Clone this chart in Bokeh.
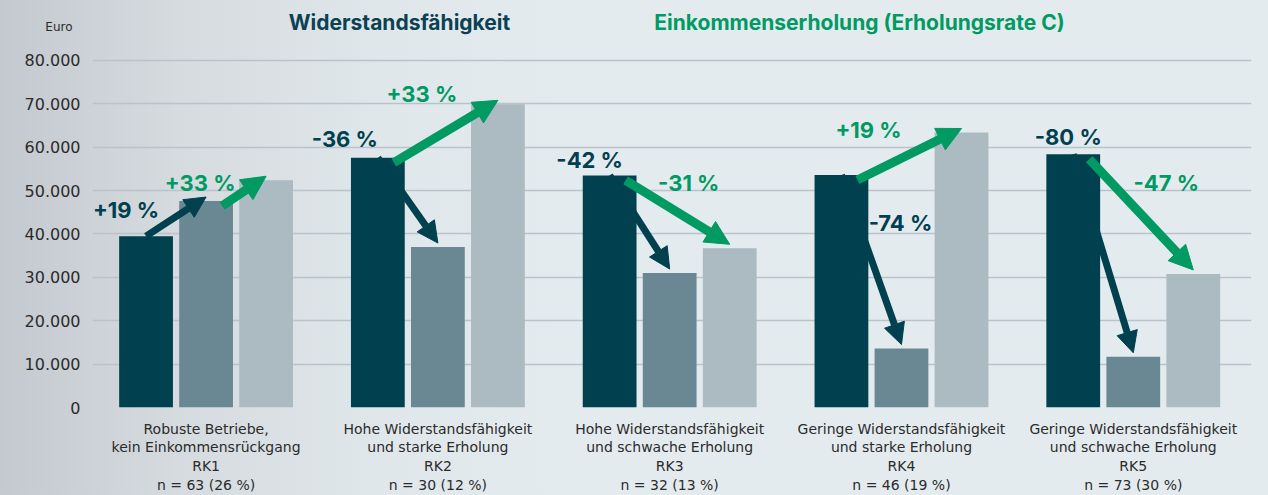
from bokeh.plotting import figure
from bokeh.models import Range1d, Label, Arrow, NormalHead, FixedTicker
from bokeh.layouts import column
from bokeh.core.properties import value
from bokeh.embed import file_html
from bokeh.resources import INLINE

# ---------------- data ----------------
groups = ["RK1", "RK2", "RK3", "RK4", "RK5"]
group_labels = [
    "Robuste Betriebe,\nkein Einkommensrückgang\nRK1\nn = 63 (26 %)",
    "Hohe Widerstandsfähigkeit\nund starke Erholung\nRK2\nn = 30 (12 %)",
    "Hohe Widerstandsfähigkeit\nund schwache Erholung\nRK3\nn = 32 (13 %)",
    "Geringe Widerstandsfähigkeit\nund starke Erholung\nRK4\nn = 46 (19 %)",
    "Geringe Widerstandsfähigkeit\nund schwache Erholung\nRK5\nn = 73 (30 %)",
]
income_before = [39500, 57600, 53500, 53600, 58400]
income_crisis = [47600, 37000, 31000, 13600, 11700]
income_after = [52400, 69900, 36700, 63400, 30800]
resilience_text = ["+19 %", "-36 %", "-42 %", "-74 %", "-80 %"]
recovery_text = ["+33 %", "+33 %", "-31 %", "+19 %", "-47 %"]
y_ticks = [0, 10000, 20000, 30000, 40000, 50000, 60000, 70000, 80000]
y_tick_labels = ["0", "10.000", "20.000", "30.000", "40.000", "50.000", "60.000", "70.000", "80.000"]
title_left = "Widerstandsfähigkeit"
title_right = "Einkommenserholung (Erholungsrate C)"
unit_label = "Euro"

# ---------------- style / layout ----------------
DARK = "#00404f"
MID = "#6a8893"
LIGHT = "#acbac1"
GREEN = "#009a62"
TITLE_DARK = "#0b4152"
GRID = "#b9c3c9"
TEXT = "#2b2b2b"
GRADIENT = {"background": "linear-gradient(90deg, #c3c9ce 0px, #d5dbdf 180px, #e0e7eb 380px, #e4ebef 560px, #e4ebef 100%)"}

W = 1268
H_TOP = 40
H = 495 - H_TOP
BL, BR, BT, BB = 92, 17, 16, 87
FW, FH = W - BL - BR, H - BT - BB
X0, X1 = -0.49, 4.51
PX_X = FW / (X1 - X0)
PX_Y = (FH - 4) / 80000.0
Y0, Y1 = 0, FH / PX_Y

def dx(px):
    return px / PX_X

def dy(px):
    return px / PX_Y

OFF = 0.259
BW = 0.232

# ---------- header strip (titles, unit on its own y axis) ----------
top = figure(width=W, height=H_TOP, output_backend="svg", toolbar_location=None,
             x_range=Range1d(BL, W - BR), y_range=Range1d(0, H_TOP),
             min_border_left=BL, min_border_right=BR, min_border_top=0, min_border_bottom=0)
top.xaxis.visible = False
top.grid.visible = False
top.outline_line_color = None
top.background_fill_alpha = 0
top.border_fill_alpha = 0
top.styles = GRADIENT
ta = top.yaxis[0]
ta.ticker = FixedTicker(ticks=[H_TOP - 26])
ta.major_label_overrides = {H_TOP - 26: unit_label}
ta.axis_line_color = None
ta.major_tick_line_color = None
ta.minor_tick_line_color = None
ta.major_label_standoff = 14
ta.major_label_text_font = "DejaVu Sans"
ta.major_label_text_font_size = "12px"
ta.major_label_text_color = TEXT
top.text(x=[399, 859], y=[H_TOP - 22, H_TOP - 22], text=[title_left, title_right],
         text_color=[TITLE_DARK, GREEN], text_align="center", text_baseline="middle",
         text_font=value("Inter"), text_font_style="bold", text_font_size="21px")

# ---------- main chart ----------
p = figure(width=W, height=H, output_backend="svg", toolbar_location=None,
           x_range=Range1d(X0, X1), y_range=Range1d(Y0, Y1),
           min_border_left=BL, min_border_right=BR, min_border_top=BT, min_border_bottom=BB)
p.background_fill_alpha = 0
p.border_fill_alpha = 0
p.outline_line_color = None
p.styles = GRADIENT

p.xgrid.visible = False
p.ygrid.ticker = FixedTicker(ticks=y_ticks)
p.ygrid.grid_line_color = GRID
p.ygrid.grid_line_width = 1.5

ya = p.yaxis[0]
ya.ticker = FixedTicker(ticks=y_ticks)
ya.major_label_overrides = {t: l for t, l in zip(y_ticks, y_tick_labels)}
ya.axis_line_color = None
ya.major_tick_line_color = None
ya.minor_tick_line_color = None
ya.major_label_standoff = 6
ya.major_label_text_font = "DejaVu Sans"
ya.major_label_text_font_size = "16px"
ya.major_label_text_color = TEXT

xa = p.xaxis[0]
xa.ticker = FixedTicker(ticks=list(range(len(groups))))
xa.major_label_overrides = {i: l for i, l in enumerate(group_labels)}
xa.axis_line_color = None
xa.major_tick_line_color = None
xa.minor_tick_line_color = None
xa.major_label_standoff = 7
xa.major_label_text_font = "DejaVu Sans"
xa.major_label_text_font_size = "14px"
xa.major_label_text_line_height = 1.17
xa.major_label_text_color = TEXT

idx = list(range(len(groups)))
p.vbar(x=[i - OFF for i in idx], top=income_before, width=BW, fill_color=DARK, line_color=None)
p.vbar(x=idx, top=income_crisis, width=BW, fill_color=MID, line_color=None)
p.vbar(x=[i + OFF for i in idx], top=income_after, width=BW, fill_color=LIGHT, line_color=None)

# arrows: resilience (before -> crisis), recovery (before -> after)
for i in idx:
    p.add_layout(Arrow(x_start=i - OFF, y_start=income_before[i],
                       x_end=i, y_end=income_crisis[i] + dy(4),
                       line_color=DARK, line_width=7,
                       end=NormalHead(size=21, fill_color=DARK, line_color=DARK, line_width=1)))
green_from = ["mid", "dark", "dark", "dark", "dark"]
for i in idx:
    if green_from[i] == "mid":
        sx, sy = i, income_crisis[i]
    else:
        sx, sy = i - OFF, income_before[i]
    p.add_layout(Arrow(x_start=sx + dx(16), y_start=sy - dy(5),
                       x_end=i + OFF, y_end=income_after[i] + dy(4),
                       line_color=GREEN, line_width=9,
                       end=NormalHead(size=24, fill_color=GREEN, line_color=GREEN, line_width=1)))

# percentage labels (pixel offsets: right, down)
dark_label_off = [(-20, -26), (-33, -19), (-20, -15), (59, 48), (-5, -17)]
green_label_off = [(-66, 3), (-76, -10), (-41, -65), (-93, -2), (-27, -91)]
for i in idx:
    ox, oy = dark_label_off[i]
    p.add_layout(Label(x=i - OFF + dx(ox), y=income_before[i] - dy(oy), text=resilience_text[i],
                       text_align="center", text_baseline="middle", text_color=DARK,
                       text_font="Inter", text_font_style="bold", text_font_size="22px"))
    ox, oy = green_label_off[i]
    p.add_layout(Label(x=i + OFF + dx(ox), y=income_after[i] - dy(oy), text=recovery_text[i],
                       text_align="center", text_baseline="middle", text_color=GREEN,
                       text_font="Inter", text_font_style="bold", text_font_size="22px"))

layout = column(top, p, spacing=0)
open("out.html", "w").write(file_html(layout, INLINE))
